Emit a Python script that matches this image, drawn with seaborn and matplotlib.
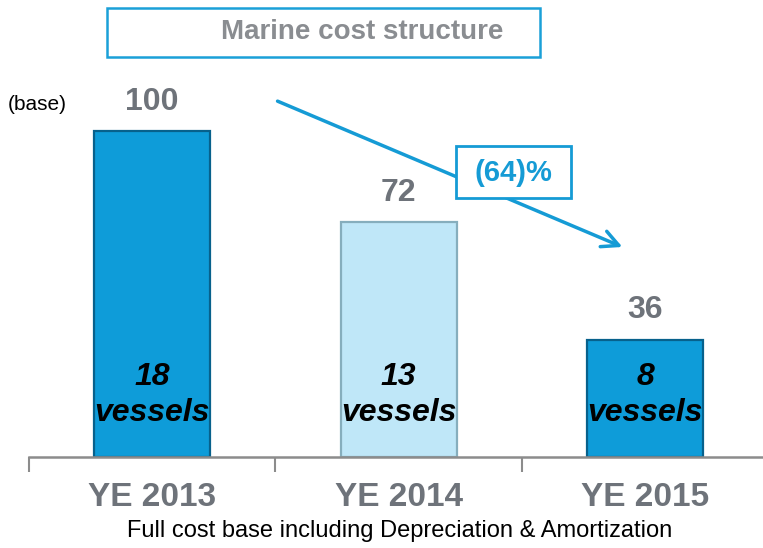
import matplotlib
matplotlib.use("Agg")
import matplotlib.pyplot as plt
import seaborn as sns
import pandas as pd
from matplotlib.patches import Rectangle

# Chart data
years = ["YE 2013", "YE 2014", "YE 2015"]
cost_index = [100, 72, 36]
vessels = [18, 13, 8]
bar_colors = ["#0e9cd9", "#bfe7f8", "#0e9cd9"]
edge_colors = ["#07618c", "#86aebd", "#07618c"]
change_label = "(64)%"

sns.set_theme(style="white")
plt.rcParams["font.family"] = ["Liberation Sans", "DejaVu Sans"]

df = pd.DataFrame({"year": years, "cost": cost_index})

fig = plt.figure(figsize=(7.63, 5.48), dpi=100)
ax = fig.add_axes([29 / 763, 91 / 548, 734 / 763, 457 / 548])

sns.barplot(data=df, x="year", y="cost", hue="year", palette=bar_colors,
            legend=False, width=0.47, saturation=1, ax=ax)
for bar, ec in zip(ax.patches, edge_colors):
    bar.set_edgecolor(ec)
    bar.set_linewidth(1.6)

ax.set_xlim(-0.5, 2.478)
ax.set_ylim(0, 140.2)
ax.set_xlabel("")
ax.set_ylabel("")
ax.set_yticks([])
for side in ["top", "right", "left"]:
    ax.spines[side].set_visible(False)
ax.spines["bottom"].set_color("#8c8c8c")
ax.spines["bottom"].set_linewidth(1.8)

ax.set_xticks(range(len(years)))
ax.set_xticklabels(years, fontsize=24, fontweight="bold", color="#6e737a")
ax.set_xticks([-0.5, 0.5, 1.5], minor=True)
ax.tick_params(axis="x", which="major", length=0, pad=18)
ax.tick_params(axis="x", which="minor", length=11, width=1.5,
               color="#8c8c8c", direction="out", bottom=True)

# value labels and vessel counts
for i, (v, n) in enumerate(zip(cost_index, vessels)):
    ax.text(i, v + 9, str(v), ha="center", va="center", fontsize=23,
            fontweight="bold", color="#6e737a")
    ax.text(i, 19, f"{n}\nvessels", ha="center", va="center", fontsize=23,
            fontweight="bold", fontstyle="italic", color="black",
            linespacing=1.25)

# trend arrow
ax.annotate("", xy=(1.918, 64.1), xytext=(0.498, 109.5),
            arrowprops=dict(arrowstyle="->,head_length=1.0,head_width=0.5",
                            color="#159bd5", lw=2.5))

# change box
fig.patches.append(Rectangle((456 / 763, 1 - 198 / 548), 115 / 763, 52 / 548,
                             transform=fig.transFigure, facecolor="white",
                             edgecolor="#159bd5", linewidth=2, zorder=5))
fig.text(513 / 763, 1 - 173 / 548, change_label, ha="center", va="center",
         fontsize=21, fontweight="bold", color="#159bd5", zorder=6)

# title box
fig.patches.append(Rectangle((107 / 763, 1 - 57 / 548), 433 / 763, 49 / 548,
                             transform=fig.transFigure, facecolor="white",
                             edgecolor="#1aa0d8", linewidth=1.8))
fig.text(362 / 763, 1 - 32 / 548, "Marine cost structure", ha="center",
         va="center", fontsize=20, fontweight="bold", color="#8a8d91")

fig.text(8 / 763, 1 - 105 / 548, "(base)", ha="left", va="center",
         fontsize=15, color="black")
fig.text(400 / 763, 1 - 531 / 548,
         "Full cost base including Depreciation & Amortization",
         ha="center", va="center", fontsize=17, color="black")

fig.savefig("out.png", dpi=100)
